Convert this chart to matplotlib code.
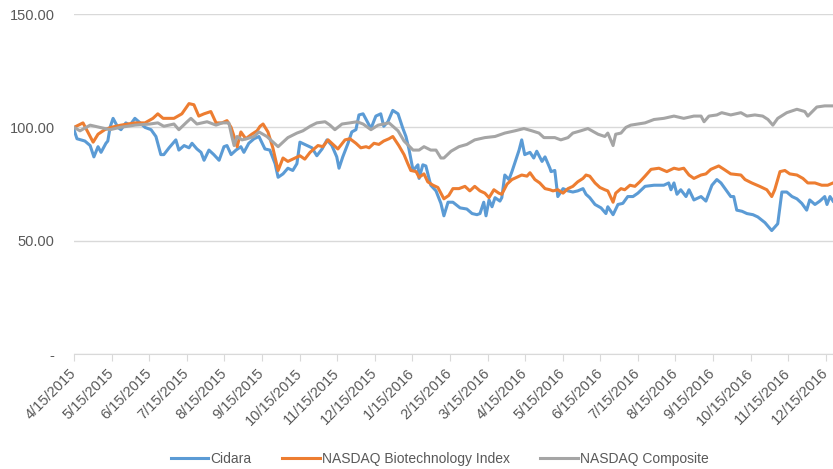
import matplotlib
matplotlib.use("Agg")
import matplotlib.pyplot as plt
from matplotlib.ticker import FuncFormatter

plt.rcParams['font.family'] = ['Liberation Sans', 'DejaVu Sans']

# month labels (category axis, one tick per month)
month_labels = ['4/15/2015', '5/15/2015', '6/15/2015', '7/15/2015', '8/15/2015',
                '9/15/2015', '10/15/2015', '11/15/2015', '12/15/2015', '1/15/2016',
                '2/15/2016', '3/15/2016', '4/15/2016', '5/15/2016', '6/15/2016',
                '7/15/2016', '8/15/2016', '9/15/2016', '10/15/2016', '11/15/2016',
                '12/15/2016']

# x = months since 4/15/2015, values indexed to 100
cidara_x = [0.00, 0.08, 0.29, 0.43, 0.53, 0.64, 0.72, 0.85, 0.90, 0.96, 1.04, 1.17, 1.25,
            1.38, 1.49, 1.62, 1.76, 1.89, 2.05, 2.18, 2.31, 2.39, 2.53, 2.71, 2.79, 2.93,
            3.06, 3.14, 3.27, 3.38, 3.46, 3.59, 3.72, 3.86, 3.99, 4.07, 4.18, 4.31, 4.44,
            4.52, 4.65, 4.79, 4.92, 5.08, 5.21, 5.35, 5.43, 5.56, 5.69, 5.82, 5.93, 6.01,
            6.20, 6.33, 6.46, 6.60, 6.73, 6.86, 6.99, 7.05, 7.15, 7.29, 7.39, 7.50, 7.58,
            7.69, 7.82, 7.90, 8.03, 8.16, 8.24, 8.35, 8.48, 8.62, 8.75, 8.83, 8.91, 9.02,
            9.15, 9.18, 9.28, 9.36, 9.49, 9.63, 9.76, 9.84, 9.95, 10.08, 10.27, 10.45,
            10.59, 10.72, 10.80, 10.90, 10.96, 11.04, 11.12, 11.20, 11.33, 11.38, 11.46,
            11.57, 11.65, 11.70, 11.84, 11.91, 11.99, 12.13, 12.23, 12.31, 12.45, 12.53,
            12.66, 12.69, 12.79, 12.87, 13.01, 13.14, 13.27, 13.40, 13.54, 13.62, 13.72,
            13.86, 14.02, 14.15, 14.20, 14.34, 14.47, 14.60, 14.73, 14.87, 15.00, 15.19,
            15.43, 15.69, 15.82, 15.88, 15.96, 16.04, 16.14, 16.28, 16.36, 16.49, 16.68,
            16.81, 16.97, 17.10, 17.21, 17.34, 17.47, 17.55, 17.63, 17.77, 17.90, 18.06,
            18.19, 18.38, 18.56, 18.64, 18.72, 18.83, 18.96, 19.10, 19.23, 19.36, 19.49,
            19.57, 19.71, 19.84, 19.97, 20.03, 20.11, 20.19]
cidara = [99, 95, 94, 92, 87, 91.5, 89, 93, 94, 100, 104, 100, 99, 102, 101, 104, 102, 100,
          99, 96, 88, 88, 91, 94.5, 90, 92, 91, 93, 90.5, 89, 85.5, 90, 88, 85.5, 91.5, 92,
          88, 90, 91.5, 89, 93, 95, 96, 90.5, 90, 84, 78, 79.5, 82, 81, 84, 93.5, 92, 91,
          87.5, 90.5, 94.5, 92, 87, 82, 87, 93, 98, 99, 105.5, 106, 102, 99.5, 105, 106,
          100.5, 102.5, 107.5, 106, 99.5, 96, 90.5, 81, 83.5, 77.5, 83.5, 83, 74.5, 72,
          66.5, 61, 67, 67, 64.5, 64, 62, 61.5, 62, 67, 61, 68, 65, 69, 67.5, 69, 79, 77,
          80.5, 83, 90, 94.5, 88, 89, 86.5, 89.5, 85, 87, 82, 80.5, 81, 69.5, 73, 72, 71.5,
          72, 73, 70.5, 69, 66, 64.5, 62, 65, 61.5, 66, 66.5, 69.5, 69.5, 71, 74, 74.5,
          74.5, 75.5, 72.5, 75.5, 70.5, 72.5, 69.5, 72.5, 68, 69.5, 67.5, 74.5, 77, 75.5,
          72.5, 69.5, 69.5, 63.5, 63, 62, 61.5, 60.5, 58, 54.5, 56, 57.5, 71.5, 71.5, 69.5,
          68.5, 66.5, 63.5, 68, 66, 67.5, 69.5, 66, 69.5, 67.5]

nbi_x = [0.00, 0.24, 0.51, 0.64, 0.82, 0.98, 1.25, 1.62, 1.89, 2.10, 2.23, 2.37, 2.66,
         2.87, 3.06, 3.19, 3.32, 3.46, 3.64, 3.78, 3.94, 4.07, 4.18, 4.26, 4.34, 4.44,
         4.57, 4.73, 4.87, 4.95, 5.03, 5.16, 5.29, 5.43, 5.56, 5.69, 5.82, 6.01, 6.14,
         6.28, 6.49, 6.62, 6.76, 6.89, 7.02, 7.21, 7.34, 7.50, 7.63, 7.77, 7.85, 7.98,
         8.11, 8.24, 8.38, 8.48, 8.56, 8.64, 8.78, 8.88, 8.96, 9.10, 9.18, 9.31, 9.41,
         9.55, 9.68, 9.76, 9.84, 9.97, 10.08, 10.24, 10.40, 10.53, 10.66, 10.80, 10.93,
         11.04, 11.17, 11.30, 11.38, 11.52, 11.65, 11.78, 11.91, 12.05, 12.13, 12.26,
         12.39, 12.53, 12.66, 12.74, 12.87, 13.01, 13.14, 13.27, 13.40, 13.54, 13.62,
         13.72, 13.86, 13.99, 14.12, 14.20, 14.34, 14.41, 14.55, 14.65, 14.79, 14.92,
         15.05, 15.19, 15.35, 15.56, 15.77, 15.96, 16.09, 16.22, 16.36, 16.49, 16.68,
         16.81, 16.94, 17.15, 17.29, 17.47, 17.74, 17.85, 18.03, 18.24, 18.43, 18.56,
         18.64, 18.78, 18.91, 19.04, 19.23, 19.39, 19.52, 19.71, 19.89, 20.05, 20.19]
nbi = [100, 102, 93.5, 97, 99, 100, 101, 102, 102, 104, 106, 104, 104, 106, 110.5, 110,
       105, 106, 107, 102, 102, 103, 100, 96, 91.5, 98, 95, 97, 98.5, 100.5, 101.5, 98, 91,
       81, 86.5, 85, 86, 87.5, 86, 89, 92, 91.5, 94.5, 92.5, 90.5, 94.5, 95, 93, 91, 91.5,
       91, 93, 92.5, 94, 95, 96, 94, 92, 88, 84, 81, 80.5, 78, 79.5, 76, 74.5, 73.5, 71,
       68.5, 70, 73, 73, 74, 72, 74, 72, 71, 69, 72.5, 71, 70.5, 75, 77, 78, 79, 78.5, 80,
       77, 75.5, 73, 72.5, 72, 72.5, 71, 73, 74, 76, 77.5, 79, 78.5, 75.5, 73.5, 72.5, 72,
       67, 71, 73, 72.5, 74.5, 74, 76, 78.5, 81.5, 82, 80.5, 82, 81.5, 82, 79, 77.5, 79,
       79.5, 81.5, 83, 81.5, 79.5, 79, 77, 75.5, 74, 72.5, 69.5, 72.5, 80.5, 81, 79.5, 79,
       77.5, 75.5, 75.5, 74.5, 74.5, 75.5]

comp_x = [0.00, 0.16, 0.43, 0.69, 0.96, 1.22, 1.62, 2.02, 2.23, 2.39, 2.66, 2.79, 3.01,
          3.11, 3.27, 3.54, 3.78, 3.94, 4.12, 4.20, 4.26, 4.34, 4.47, 4.60, 4.79, 4.92,
          5.13, 5.43, 5.69, 5.93, 6.09, 6.28, 6.46, 6.68, 6.81, 6.94, 7.13, 7.34, 7.53,
          7.69, 7.90, 8.09, 8.38, 8.62, 8.78, 9.02, 9.18, 9.31, 9.49, 9.63, 9.76, 9.84,
          10.03, 10.24, 10.45, 10.66, 10.93, 11.20, 11.46, 11.73, 11.97, 12.18, 12.37,
          12.50, 12.63, 12.79, 12.95, 13.14, 13.27, 13.48, 13.67, 13.94, 14.12, 14.20,
          14.34, 14.41, 14.55, 14.68, 14.81, 15.00, 15.19, 15.43, 15.69, 15.96, 16.22,
          16.49, 16.68, 16.76, 16.89, 17.10, 17.23, 17.47, 17.74, 17.90, 18.11, 18.32,
          18.46, 18.59, 18.72, 18.96, 19.23, 19.44, 19.52, 19.76, 19.97, 20.19]
comp = [100, 98.5, 101, 100, 99, 100, 101, 101.5, 102, 100.5, 101.5, 99, 102.5, 104,
        101.5, 102.5, 101, 102, 102, 96, 92, 96, 94.5, 95, 96, 98, 96, 91.5, 95.5, 97.5,
        98.5, 100.5, 102, 102.5, 101, 99, 101.5, 102, 102.5, 101.5, 99, 101, 102, 98.5, 94,
        90, 90, 91.5, 90, 90, 86.5, 86.5, 89.5, 91.5, 92.5, 94.5, 95.5, 96, 97.5, 98.5,
        99.5, 98.5, 97.5, 95.5, 95.5, 95.5, 94.5, 95.5, 97.5, 98.5, 99.5, 97, 96, 97.5, 92,
        97, 97.5, 100, 101, 101.5, 102, 103.5, 104, 105, 104, 105, 105, 102.5, 105, 105.5,
        106.5, 105.5, 106.5, 105, 105.5, 105, 103.5, 101, 104, 106.5, 108, 107, 105, 109,
        109.5, 109.5]

fig = plt.figure(figsize=(8.33, 4.69), dpi=100)
ax = fig.add_axes([0.0888, 0.245, 0.9112, 0.725])

ax.plot(cidara_x, cidara, color='#5B9BD5', lw=2.2, label='Cidara', solid_joinstyle='round')
ax.plot(nbi_x, nbi, color='#ED7D31', lw=2.2, label='NASDAQ Biotechnology Index', solid_joinstyle='round')
ax.plot(comp_x, comp, color='#A5A5A5', lw=2.2, label='NASDAQ Composite', solid_joinstyle='round')

ax.set_xlim(0, 20.19)
ax.set_ylim(0, 150)
ax.set_yticks([0, 50, 100, 150])
ax.yaxis.set_major_formatter(FuncFormatter(lambda v, p: '-' if v == 0 else '{:.2f}'.format(v)))
ax.set_xticks(range(len(month_labels)))
ax.set_xticklabels(month_labels, rotation=45, ha='right', va='center', rotation_mode='anchor')

ax.grid(axis='y', color='#d9d9d9', lw=1)
ax.set_axisbelow(True)
for s in ['top', 'right', 'left']:
    ax.spines[s].set_visible(False)
ax.spines['bottom'].set_color('#d9d9d9')
ax.tick_params(axis='y', length=0, pad=14, labelsize=10.5, labelcolor='#595959')
ax.tick_params(axis='x', length=5, color='#d9d9d9', direction='out', labelsize=10.5,
               labelcolor='#595959', pad=7)

fig.legend(loc='lower center', bbox_to_anchor=(0.528, -0.02), ncol=3, frameon=False,
           fontsize=10, labelcolor='#595959', handlelength=2.7, handletextpad=0.15,
           columnspacing=2.2)

fig.savefig('out.png', dpi=100)
